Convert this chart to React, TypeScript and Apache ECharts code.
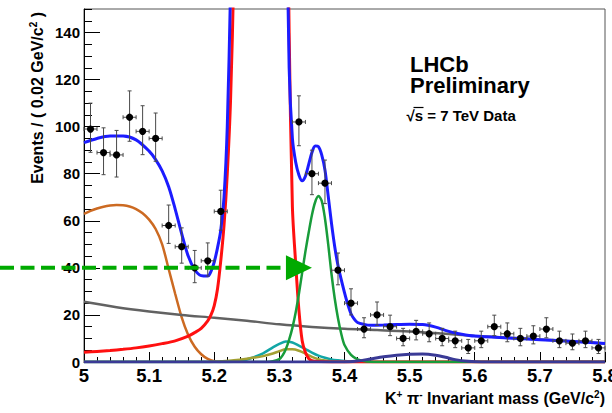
import { useEffect, useRef } from "react";
import * as echarts from "echarts";

const FONT = "'Liberation Sans', Arial, Helvetica, sans-serif";

// Histogram: bin centres (0.02 GeV/c^2 wide), counts and Poisson errors
const BIN_HALF_WIDTH = 0.01;
const binCentres = [
  5.01, 5.03, 5.05, 5.07, 5.09, 5.11, 5.13, 5.15, 5.17, 5.19, 5.21,
  5.33, 5.35, 5.37, 5.39, 5.41, 5.43, 5.45, 5.47, 5.49, 5.51, 5.53, 5.55, 5.57, 5.59,
  5.61, 5.63, 5.65, 5.67, 5.69, 5.71, 5.73, 5.75, 5.77, 5.79,
];
const counts = [
  99, 89, 88, 104, 98, 95, 58, 49, 40, 43, 64,
  102, 80, 76, 39, 25, 14, 20, 15, 10, 13, 12, 10, 9, 6,
  9, 15, 12, 10, 11, 14, 9, 8, 9, 6,
];
const errLow = [
  9.9, 9.4, 9.4, 10.2, 9.9, 9.7, 7.6, 7.0, 6.3, 6.5, 8.0,
  10.1, 8.9, 8.7, 6.2, 5.0, 3.7, 4.4, 3.8, 3.1, 3.6, 3.4, 3.1, 2.9, 2.4,
  2.9, 3.8, 3.4, 3.1, 3.3, 3.7, 2.9, 2.8, 2.9, 2.4,
];
const errHigh = [
  11.0, 10.5, 10.4, 11.2, 10.9, 10.8, 8.7, 8.0, 7.4, 7.6, 9.0,
  11.1, 10.0, 9.8, 7.3, 6.1, 4.8, 5.5, 4.9, 4.3, 4.7, 4.6, 4.3, 4.1, 3.6,
  4.1, 4.9, 4.6, 4.3, 4.4, 4.8, 4.1, 3.9, 4.1, 3.6,
];

// Fit components, [mass, events per bin]
const totalFit = [
  [5.0, 93.2], [5.02, 95.0], [5.04, 96.0], [5.06, 96.0], [5.08, 94.4], [5.1, 89.6],
  [5.11, 86.0], [5.12, 81.2], [5.13, 74.5], [5.14, 65.0], [5.15, 54.5], [5.16, 45.0],
  [5.17, 39.2], [5.18, 36.7], [5.19, 36.5], [5.195, 38.5], [5.2, 42.5], [5.205, 48.5],
  [5.21, 56.0], [5.215, 70.0], [5.22, 100], [5.225, 158], [5.23, 230], [5.24, 380],
  [5.25, 650], [5.26, 920], [5.27, 1020], [5.28, 1000], [5.29, 830], [5.3, 560],
  [5.305, 380], [5.31, 220], [5.315, 125], [5.32, 95], [5.325, 85], [5.33, 79.5],
  [5.335, 77], [5.34, 79], [5.345, 84], [5.35, 89], [5.355, 91.8], [5.36, 91.5],
  [5.365, 88], [5.37, 81.6], [5.375, 70.5], [5.38, 59], [5.385, 49], [5.39, 41],
  [5.395, 35], [5.4, 29.5], [5.405, 24.5], [5.41, 20.5], [5.415, 18.2], [5.42, 16.8],
  [5.43, 16.0], [5.44, 15.6], [5.46, 15.7], [5.48, 15.9], [5.5, 16.0], [5.52, 15.9],
  [5.54, 14.8], [5.56, 13.0], [5.58, 11.8], [5.6, 11.0], [5.65, 10.2], [5.7, 9.5],
  [5.75, 8.7], [5.8, 7.9],
];
const bdPeak = [
  [5.0, 4.1], [5.02, 4.5], [5.04, 4.9], [5.06, 5.4], [5.08, 6.0], [5.1, 6.8],
  [5.12, 7.8], [5.14, 9.0], [5.16, 11.0], [5.17, 12.5], [5.18, 14.3], [5.19, 17.5],
  [5.195, 20], [5.2, 24], [5.205, 31], [5.21, 43], [5.215, 58], [5.22, 80],
  [5.225, 111], [5.23, 165], [5.24, 320], [5.25, 620], [5.26, 900], [5.27, 1000],
  [5.28, 980], [5.29, 800], [5.3, 520], [5.305, 340], [5.31, 250], [5.315, 140],
  [5.32, 66], [5.325, 42], [5.33, 22], [5.335, 9], [5.34, 4], [5.345, 1.5],
  [5.35, 0.6], [5.36, 0.2], [5.38, 0], [5.8, 0],
];
const bsPeak = [
  [5.0, 0], [5.28, 0], [5.29, 0.3], [5.3, 1.2], [5.305, 2.8], [5.31, 5.5],
  [5.315, 9.5], [5.32, 14.5], [5.325, 21], [5.33, 29], [5.335, 38], [5.34, 47],
  [5.345, 55], [5.35, 62.5], [5.355, 68], [5.36, 70.5], [5.365, 68.5], [5.37, 61],
  [5.375, 50], [5.38, 37.5], [5.385, 27], [5.39, 18.6], [5.395, 12], [5.4, 7.2],
  [5.41, 3], [5.42, 1.1], [5.43, 0.4], [5.44, 0.1], [5.45, 0], [5.8, 0],
];
const partialReco = [
  [5.0, 62.9], [5.01, 64.2], [5.02, 65.2], [5.03, 66.0], [5.04, 66.5], [5.05, 66.7],
  [5.06, 66.6], [5.07, 66.1], [5.08, 65.0], [5.09, 63.2], [5.1, 60.5], [5.11, 56.5],
  [5.12, 50.0], [5.13, 39.5], [5.14, 29], [5.15, 19], [5.16, 11.5], [5.17, 6.5],
  [5.18, 3.3], [5.19, 1.3], [5.2, 0.3], [5.21, 0],
];
const combinatorial = [
  [5.0, 25.6], [5.05, 23.3], [5.1, 21.5], [5.15, 20.0], [5.2, 18.8], [5.25, 17.5],
  [5.3, 16.0], [5.35, 14.9], [5.4, 14.1], [5.45, 13.6], [5.5, 13.0], [5.55, 12.1],
  [5.6, 11.1], [5.65, 10.3], [5.7, 9.6], [5.75, 8.8], [5.8, 7.9],
];
const misIdA = [
  [5.0, 0], [5.22, 0], [5.24, 0.5], [5.255, 1.5], [5.275, 3.7], [5.29, 6.2],
  [5.3, 7.7], [5.31, 8.7], [5.32, 8.3], [5.33, 7.0], [5.34, 5.5], [5.35, 4.0],
  [5.36, 2.7], [5.37, 1.8], [5.38, 1.1], [5.39, 0.7], [5.4, 0.4], [5.42, 0.1],
  [5.44, 0], [5.8, 0],
];
const misIdB = [
  [5.0, 0], [5.19, 0], [5.21, 0.3], [5.23, 0.7], [5.25, 1.4], [5.275, 2.5],
  [5.29, 3.6], [5.3, 4.6], [5.31, 5.4], [5.32, 5.4], [5.33, 4.8], [5.34, 3.6],
  [5.35, 2.2], [5.36, 1.2], [5.37, 0.6], [5.38, 0.2], [5.4, 0], [5.8, 0],
];
const lambdaB = [
  [5.0, 0], [5.4, 0], [5.42, 0.4], [5.44, 1.3], [5.46, 2.2], [5.48, 2.9], [5.5, 3.3],
  [5.52, 3.4], [5.54, 2.9], [5.555, 2.0], [5.57, 1.0], [5.59, 0.3], [5.61, 0], [5.8, 0],
];

// Axis ranges and the marker arrow
const X_MIN = 5.0;
const X_MAX = 5.8;
const Y_MIN = 0;
const Y_MAX = 150;
const ARROW_LEVEL = 40;
const ARROW_TIP = 5.35;

const curve = (name: string, data: number[][], color: string, width: number, z: number) => ({
  name,
  type: "line",
  data,
  showSymbol: false,
  symbol: "none",
  smooth: 0.3,
  clip: true,
  lineStyle: { color, width },
  z,
  silent: true,
});

export default function App() {
  const ref = useRef<HTMLDivElement>(null);

  useEffect(() => {
    if (!ref.current) return;
    const chart = echarts.init(ref.current, undefined, { renderer: "svg" });

    const points = binCentres.map((x, i) => [x, counts[i], errLow[i], errHigh[i]]);
    const barStyle = { stroke: "#4a4a4a", lineWidth: 1 };
    const xLabelStyle = { fontFamily: FONT, fontWeight: "bold", fontSize: 18.5, color: "#000" };

    chart.setOption({
      animation: false,
      backgroundColor: "#fff",
      grid: {
        left: 84,
        right: 7,
        top: 9,
        bottom: 51,
        show: true,
        borderColor: "#555",
        borderWidth: 1,
        backgroundColor: "transparent",
      },
      xAxis: {
        type: "value",
        min: X_MIN,
        max: X_MAX,
        interval: 0.1,
        axisLine: { show: true, onZero: false, lineStyle: { color: "#000", width: 1 } },
        axisTick: { show: true, inside: true, length: 10, lineStyle: { color: "#000", width: 1 } },
        minorTick: { show: true, splitNumber: 5, length: 5, lineStyle: { color: "#000", width: 1 } },
        splitLine: { show: false },
        axisLabel: { ...xLabelStyle, margin: 4, showMinLabel: true, showMaxLabel: false },
      },
      yAxis: [
        {
          type: "value",
          position: "left",
          min: Y_MIN,
          max: Y_MAX,
          interval: 20,
          axisLine: { show: true, onZero: false, lineStyle: { color: "#000", width: 1 } },
          axisTick: { show: true, inside: true, length: 16, lineStyle: { color: "#000", width: 1 } },
          splitLine: { show: false },
          axisLabel: {
            fontFamily: FONT,
            fontWeight: "bold",
            fontSize: 15,
            color: "#000",
            margin: 4,
            showMaxLabel: false,
          },
        },
        {
          type: "value",
          position: "left",
          offset: 0,
          min: Y_MIN,
          max: Y_MAX,
          interval: 5,
          axisLine: { show: false },
          axisTick: { show: true, inside: true, length: 8, lineStyle: { color: "#000", width: 1 } },
          splitLine: { show: false },
          axisLabel: { show: false },
        },
      ],
      series: [
        curve("partially reconstructed", partialReco, "#cc6a22", 2.5, 2),
        curve("combinatorial", combinatorial, "#626262", 2.5, 2),
        curve("B0 -> K pi", bdPeak, "#ff1010", 3, 3),
        curve("mis-ID A", misIdA, "#12a6a6", 2.5, 2),
        curve("mis-ID B", misIdB, "#a3a032", 2.5, 2),
        curve("Bs -> K pi", bsPeak, "#189c3a", 2.5, 3),
        curve("Lambda_b", lambdaB, "#3a3a96", 3, 4),
        curve("total", totalFit, "#1c1cff", 3, 5),
        {
          name: "data",
          type: "custom",
          data: points,
          encode: { x: 0, y: 1 },
          z: 6,
          silent: true,
          renderItem: (_params: any, api: any) => {
            const x = api.value(0);
            const y = api.value(1);
            const lo = api.value(2);
            const hi = api.value(3);
            const c = api.coord([x, y]);
            const top = api.coord([x, y + hi])[1];
            const bot = api.coord([x, y - lo])[1];
            const left = api.coord([x - BIN_HALF_WIDTH, y])[0];
            const right = api.coord([x + BIN_HALF_WIDTH, y])[0];
            return {
              type: "group",
              children: [
                { type: "line", shape: { x1: c[0], y1: top, x2: c[0], y2: bot }, style: barStyle },
                { type: "line", shape: { x1: c[0] - 2, y1: top, x2: c[0] + 2, y2: top }, style: barStyle },
                { type: "line", shape: { x1: c[0] - 2, y1: bot, x2: c[0] + 2, y2: bot }, style: barStyle },
                { type: "line", shape: { x1: left, y1: c[1], x2: right, y2: c[1] }, style: barStyle },
                { type: "line", shape: { x1: left, y1: c[1] - 2, x2: left, y2: c[1] + 2 }, style: barStyle },
                { type: "line", shape: { x1: right, y1: c[1] - 2, x2: right, y2: c[1] + 2 }, style: barStyle },
                { type: "circle", shape: { cx: c[0], cy: c[1], r: 3.6 }, style: { fill: "#000" } },
              ],
            };
          },
        },
      ],
    });

    // Arrow marking the selection level, placed from data coordinates
    const [tipX, levelY] = chart.convertToPixel({ gridIndex: 0 }, [ARROW_TIP, ARROW_LEVEL]) as number[];
    // Last x tick label sits on the frame edge and runs off the page
    const [maxX, axisY] = chart.convertToPixel({ gridIndex: 0 }, [X_MAX, Y_MIN]) as number[];
    const arrowGreen = "#00aa00";
    const supStyle = { fontSize: 10, fontWeight: "bold", fontFamily: FONT, fill: "#000", verticalAlign: "top", lineHeight: 11 };

    chart.setOption({
      graphic: [
        {
          type: "line",
          z: 100,
          shape: { x1: 0, y1: levelY, x2: tipX - 27, y2: levelY },
          style: { stroke: arrowGreen, lineWidth: 4, lineDash: [14, 6.5] },
        },
        {
          type: "polygon",
          z: 100,
          shape: { points: [[tipX - 26, levelY - 12.5], [tipX - 26, levelY + 12.5], [tipX, levelY]] },
          style: { fill: arrowGreen },
        },
        {
          type: "text",
          z: 100,
          x: maxX,
          y: axisY + 4,
          style: {
            text: String(X_MAX),
            fontFamily: FONT,
            fontWeight: "bold",
            fontSize: 18.5,
            fill: "#000",
            align: "center",
            verticalAlign: "top",
          },
        },
        {
          type: "text",
          z: 100,
          x: 37,
          y: 12,
          rotation: Math.PI / 2,
          style: {
            text: "Events / ( 0.02 GeV/c{sup|2} )",
            fontSize: 16,
            fontWeight: "bold",
            fontFamily: FONT,
            fill: "#000",
            align: "right",
            verticalAlign: "middle",
            lineHeight: 18,
            rich: { sup: supStyle },
          },
        },
        {
          type: "text",
          z: 100,
          x: 605,
          y: 398,
          style: {
            text: "K{sup|+} π{sup|-} Invariant mass (GeV/c{sup|2})",
            fontSize: 16,
            fontWeight: "bold",
            fontFamily: FONT,
            fill: "#000",
            align: "right",
            verticalAlign: "middle",
            lineHeight: 18,
            rich: { sup: supStyle },
          },
        },
        {
          type: "text",
          z: 100,
          x: 410,
          y: 54,
          style: {
            text: "LHCb\nPreliminary",
            fontSize: 22,
            lineHeight: 21,
            fontWeight: "bold",
            fontFamily: FONT,
            fill: "#000",
            verticalAlign: "top",
          },
        },
        {
          type: "text",
          z: 100,
          x: 406.5,
          y: 115,
          style: { text: "√s = 7 TeV Data", fontSize: 15, fontWeight: "bold", fontFamily: FONT, fill: "#000", verticalAlign: "middle" },
        },
        {
          type: "line",
          z: 100,
          shape: { x1: 413.5, y1: 107.5, x2: 423.5, y2: 107.5 },
          style: { stroke: "#000", lineWidth: 1.2 },
        },
      ],
    });

    return () => chart.dispose();
  }, []);

  return <div ref={ref} style={{ position: "fixed", left: 0, top: 0, width: 612, height: 413 }} />;
}
